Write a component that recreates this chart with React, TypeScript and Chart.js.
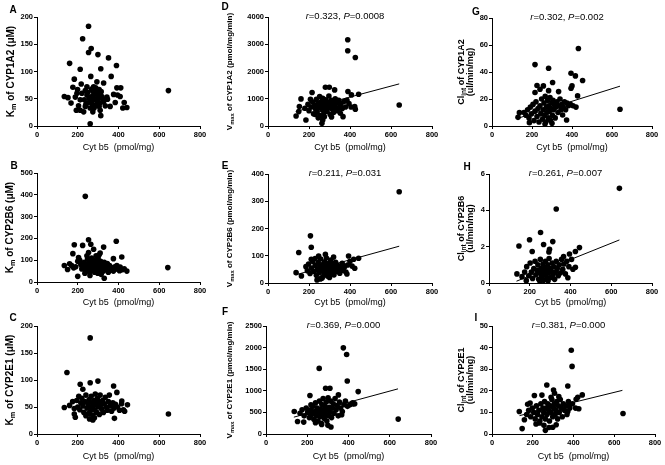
import React, { useEffect, useRef } from "react";
import { Chart, registerables } from "chart.js";
Chart.register(...registerables);

type Pt = [number, number];

// ---------------- DATA ----------------
const xTickValues = [0, 200, 400, 600, 800];
const xAxisTitle = "Cyt b5  (pmol/mg)";

const kmCYP1A2: Pt[] = [
  [253,183],[224,160],[266,142],[253,135],[299,131],[351,125],[390,111],[160,115],[212,104],[313,105],
  [264,91],[364,91],[183,86],[217,77],[294,81],[327,79],[176,71],[392,70],[411,70],[199,67],
  [237,65],[274,64],[305,67],[134,54],[152,52],[188,53],[212,48],[245,57],[269,54],[294,60],
  [318,54],[343,53],[376,58],[395,57],[204,37],[193,29],[212,29],[237,36],[261,33],[286,37],
  [310,42],[335,37],[384,43],[428,43],[421,33],[441,34],[359,36],[313,19],[261,4],[645,65],
  [408,54],[346,49],[281,48],[258,44],[232,48],[167,42],[302,51],[327,45],[229,26],[274,26],
  [294,39],[310,29],[245,72],[278,72],[248,42],[220,60],[196,60],[278,57],
  [285,62],[290,50],[300,58],[265,48],[272,40],[255,52],[315,63],[322,50],[298,44],[288,70],
  [240,40],[305,36],[280,33],[250,62],[268,68]
];
const kmCYP2B6: Pt[] = [
  [237,393],[253,194],[264,173],[389,187],[183,171],[224,168],[327,160],[278,150],[176,130],[310,133],
  [253,135],[416,115],[204,112],[375,107],[134,76],[150,57],[160,84],[200,26],[330,17],[642,66],
  [441,50],[408,69],[392,76],[428,61],
  [190,70],[200,95],[210,100],[215,80],[220,60],[228,75],[232,90],[238,55],[242,70],[248,105],
  [252,85],[255,60],[258,45],[262,95],[265,75],[268,110],[270,55],[273,85],[276,65],[280,100],
  [283,45],[286,80],[290,60],[292,95],[295,70],[298,40],[300,110],[303,85],[306,55],[309,75],
  [312,95],[315,35],[318,65],[322,80],[326,50],[330,90],[335,70],[340,60],[345,85],[350,45],
  [356,75],[362,55],[368,65],[375,50],[382,70],[395,58],[405,52],[418,56],[235,40],[260,30],
  [290,120],[305,125],[245,120],[180,65],[170,75]
];
const kmCYP2E1: Pt[] = [
  [261,178],[147,114],[299,98],[261,95],[212,92],[376,89],[392,77],[225,83],[134,49],[160,53],
  [183,47],[183,37],[188,31],[258,28],[274,26],[380,29],[645,37],[444,54],[424,45],[416,61],
  [175,60],[195,62],[200,50],[205,70],[210,45],[215,58],[220,66],[225,52],[230,40],[235,60],
  [240,72],[245,48],[250,56],[253,38],[256,64],[260,50],[263,44],[266,70],[270,58],[273,35],
  [276,52],[280,62],[283,45],[286,74],[290,55],[293,40],[296,66],[300,50],[303,60],[306,36],
  [310,72],[314,54],[318,46],[322,62],[326,40],[330,56],[335,68],[340,50],[345,44],[350,60],
  [355,72],[360,52],[366,42],[372,58],[378,48],[385,55],[395,50],[405,44],[415,56],[430,42],
  [240,34],[282,30]
];
const vmaxCYP1A2: Pt[] = [
  [389,3166],[389,2761],[426,2515],[640,773],[207,982],[161,994],[137,368],[150,528],[185,221],[215,1227],
  [280,1423],[299,1423],[325,1325],[390,1264],[407,1141],[442,1166],[423,712],[426,613],[263,98],[267,221],
  [353,466],[366,343],[153,712],
  [180,650],[195,800],[200,560],[210,700],[218,880],[222,450],[228,760],[232,620],[236,980],[240,520],
  [244,840],[248,680],[252,1080],[255,380],[258,760],[261,900],[264,600],[267,1020],[270,700],[273,480],
  [276,850],[279,620],[282,960],[285,740],[288,540],[291,880],[294,680],[297,1100],[300,800],[303,420],
  [306,720],[309,940],[312,620],[316,860],[320,500],[324,760],[328,1000],[332,660],[336,860],[340,560],
  [345,940],[350,720],[356,820],[362,640],[370,900],[378,700],[385,940],[395,820],[405,700],[245,300],
  [275,340],[310,330],[230,420]
];
const vmaxCYP2B6: Pt[] = [
  [640,335],[207,173],[211,131],[150,112],[211,87],[137,38],[163,26],[247,99],[393,99],[418,87],
  [442,91],[423,54],[385,33],[263,17],[239,11],
  [185,60],[192,45],[198,70],[205,35],[212,55],[218,80],[224,42],[230,65],[236,28],[240,50],
  [245,75],[249,38],[253,60],[257,88],[260,45],[264,20],[267,68],[270,52],[273,32],[276,78],
  [279,58],[282,40],[285,92],[288,62],[291,25],[294,48],[297,72],[300,55],[303,35],[306,84],
  [310,62],[314,45],[318,70],[322,30],[326,56],[330,76],[335,42],[340,64],[345,50],[350,36],
  [356,58],[362,72],[368,46],[374,60],[380,40],[388,66],[400,80],[410,62],[255,15],[300,20],
  [230,90],[280,105],[320,95]
];
const vmaxCYP2E1: Pt[] = [
  [375,1994],[391,1840],[258,1518],[394,1227],[447,982],[289,1058],[310,1058],[213,890],[351,905],[218,675],
  [137,521],[153,291],[183,276],[315,161],[641,345],[423,698],[407,675],[367,445],
  [165,480],[175,560],[185,420],[195,600],[202,500],[210,380],[216,560],[222,460],[228,640],[232,340],
  [236,520],[240,720],[244,420],[248,600],[252,300],[256,500],[259,760],[262,400],[265,580],[268,250],
  [271,680],[274,460],[277,820],[280,540],[283,360],[286,640],[289,460],[292,740],[295,300],[298,560],
  [301,840],[304,420],[307,620],[310,500],[314,760],[318,380],[322,600],[326,700],[330,480],[335,820],
  [340,560],[345,660],[350,420],[356,740],[362,600],[370,520],[378,680],[385,760],[395,640],[420,720],
  [430,700],[240,260],[270,220],[300,200]
];
const clintCYP1A2: Pt[] = [
  [432,57.4],[215,45.5],[283,42.8],[395,39.1],[417,37.1],[453,33.7],[303,32.2],[400,29.7],[395,28],[225,30],
  [257,29.7],[240,27.2],[283,26.2],[215,24.8],[333,25.5],[428,22.3],[640,12.4],[137,9.9],[130,6.4],[353,8.2],
  [373,4.5],[187,2.5],
  [160,10],[170,8],[178,12],[185,6],[192,14],[198,9],[205,16],[210,4],[215,11],[220,18],
  [225,7],[230,13],[235,3],[240,15],[244,9],[248,20],[252,5],[256,12],[260,17],[263,8],
  [266,22],[269,3],[272,14],[275,10],[278,19],[281,6],[284,15],[287,11],[290,21],[293,4],
  [296,13],[299,17],[302,8],[305,19],[308,12],[312,16],[316,6],[320,14],[325,18],[330,10],
  [335,15],[340,20],[345,12],[350,16],[356,14],[362,18],[368,12],[375,17],[382,15],[392,16],
  [405,15],[420,14],[265,1.5],[300,2]
];
const clintCYP2B6: Pt[] = [
  [640,5.21],[330,4.07],[253,2.78],[199,2.38],[147,2.04],[313,2.28],[268,2.12],[297,1.86],[294,1.71],[212,1.73],
  [444,1.95],[424,1.73],[395,1.6],[366,1.45],[424,0.87],[412,0.76],[137,0.5],[162,0.35],[183,0.13],[387,0.29],
  [175,0.6],[185,0.9],[195,0.4],[202,1.1],[208,0.6],[214,0.25],[220,0.8],[226,1.2],[230,0.45],[235,0.7],
  [240,1.0],[244,0.2],[248,0.55],[252,1.3],[255,0.8],[258,0.35],[262,0.65],[265,1.05],[268,0.15],[271,0.5],
  [274,0.85],[277,1.2],[280,0.4],[283,0.7],[286,0.25],[289,1.0],[292,0.55],[295,1.35],[298,0.8],[302,0.3],
  [306,0.65],[310,1.1],[314,0.45],[318,0.9],[322,0.2],[326,0.6],[330,1.2],[335,0.8],[340,0.4],[345,1.0],
  [350,0.55],[356,1.3],[362,0.75],[368,1.05],[375,0.5],[382,1.2],[392,0.9],[405,1.3],[250,0.1],[290,0.12]
];
const clintCYP2E1: Pt[] = [
  [389,38.8],[393,31.3],[643,9.5],[269,22.7],[372,22.2],[302,20.4],[307,18.9],[328,17.3],[443,18.1],[421,17.0],
  [413,16.1],[208,17.8],[187,14.3],[175,13.8],[134,10.4],[159,6.6],[148,2.5],[262,1.7],[233,5.1],[216,4.6],
  [315,4.3],[298,3.1],[410,12.0],[426,11.7],[372,10.4],[384,13.8],
  [170,9],[180,11],[190,8],[198,12],[205,10],[212,7],[218,13],[224,9],[230,11],[235,6],
  [240,14],[245,8],[250,12],[254,10],[258,15],[262,7],[266,12],[270,9],[274,14],[278,11],
  [282,6],[286,13],[290,10],[294,16],[298,8],[302,12],[306,14],[310,9],[314,11],[318,15],
  [322,7],[326,13],[330,10],[335,16],[340,12],[345,8],[350,14],[356,11],[362,13],[368,9],
  [375,15],[382,12],[395,14],[255,4],[280,3],[245,18],[290,17]
];

// regression line end points
const fitVmaxCYP1A2: Pt[] = [[135, 530], [640, 1545]];
const fitVmaxCYP2B6: Pt[] = [[135, 30], [640, 135]];
const fitVmaxCYP2E1: Pt[] = [[135, 390], [640, 1045]];
const fitClintCYP1A2: Pt[] = [[135, 6], [640, 29.5]];
const fitClintCYP2B6: Pt[] = [[135, 0.1], [640, 2.37]];
const fitClintCYP2E1: Pt[] = [[135, 8.5], [640, 20.2]];

// y axis ranges [max, step]
const yKm1A2 = [200, 50];
const yKm2B6 = [500, 100];
const yKm2E1 = [200, 50];
const yVmax1A2 = [4000, 1000];
const yVmax2B6 = [400, 100];
const yVmax2E1 = [2500, 500];
const yClint1A2 = [80, 20];
const yClint2B6 = [6, 2];
const yClint2E1 = [50, 10];

// text parts: sub = subscript, i = italic
type Part = { t: string; sub?: boolean; i?: boolean };
const stat1A2: Part[] = [{ t: "r", i: true }, { t: "=0.323, " }, { t: "P", i: true }, { t: "=0.0008" }];
const stat2B6V: Part[] = [{ t: "r", i: true }, { t: "=0.211, " }, { t: "P", i: true }, { t: "=0.031" }];
const stat2E1V: Part[] = [{ t: "r", i: true }, { t: "=0.369, " }, { t: "P", i: true }, { t: "=0.000" }];
const stat1A2C: Part[] = [{ t: "r", i: true }, { t: "=0.302, " }, { t: "P", i: true }, { t: "=0.002" }];
const stat2B6C: Part[] = [{ t: "r", i: true }, { t: "=0.261, " }, { t: "P", i: true }, { t: "=0.007" }];
const stat2E1C: Part[] = [{ t: "r", i: true }, { t: "=0.381, " }, { t: "P", i: true }, { t: "=0.000" }];

const kmTitle = (iso: string): Part[][] => [[{ t: "K" }, { t: "m", sub: true }, { t: ` of ${iso} (\u03BCM)` }]];
const vTitle = (iso: string): Part[][] => [[{ t: "V" }, { t: "max", sub: true }, { t: ` of ${iso} (pmol/mg/min)` }]];
const cTitle = (iso: string): Part[][] => [
  [{ t: "Cl" }, { t: "int", sub: true }, { t: ` of ${iso}` }],
  [{ t: "(ul/min/mg)" }],
];

// ---------------- LAYOUT ----------------
const FONT = "'Liberation Sans', Arial, Helvetica, sans-serif";
const CW = 222;
const CH = 160;

type Panel = {
  letter: string;
  pts: Pt[];
  fit?: Pt[];
  y: number[];
  title: Part[][];
  titleSize: number;
  titleX: number;
  stat?: Part[];
  left: number;
  top: number;
  plot: [number, number, number, number]; // l t r b relative to canvas
  letterPos: [number, number];
  xTitlePad: number;
};

const panels: Panel[] = [
  { letter: "A", pts: kmCYP1A2, y: yKm1A2, title: kmTitle("CYP1A2"), titleSize: 10, titleX: 10,
    left: 0, top: 0, plot: [37, 17, 200, 126], letterPos: [13, 10], xTitlePad: 7.5 },
  { letter: "D", pts: vmaxCYP1A2, fit: fitVmaxCYP1A2, y: yVmax1A2, title: vTitle("CYP1A2"), titleSize: 8, titleX: 7, stat: stat1A2,
    left: 222, top: 0, plot: [46, 17, 210, 126], letterPos: [3, 7], xTitlePad: 7.5 },
  { letter: "G", pts: clintCYP1A2, fit: fitClintCYP1A2, y: yClint1A2, title: cTitle("CYP1A2"), titleSize: 9, titleX: 22, stat: stat1A2C,
    left: 443, top: 0, plot: [49, 18, 209, 126], letterPos: [33, 12], xTitlePad: 7.5 },
  { letter: "B", pts: kmCYP2B6, y: yKm2B6, title: kmTitle("CYP2B6"), titleSize: 10, titleX: 9,
    left: 0, top: 150, plot: [37, 23, 200, 132], letterPos: [14, 16], xTitlePad: 1.8 },
  { letter: "E", pts: vmaxCYP2B6, fit: fitVmaxCYP2B6, y: yVmax2B6, title: vTitle("CYP2B6"), titleSize: 8, titleX: 7, stat: stat2B6V,
    left: 222, top: 150, plot: [46, 24, 210, 133], letterPos: [3, 16], xTitlePad: 1.8 },
  { letter: "H", pts: clintCYP2B6, fit: fitClintCYP2B6, y: yClint2B6, title: cTitle("CYP2B6"), titleSize: 9, titleX: 22, stat: stat2B6C,
    left: 443, top: 150, plot: [46, 24, 209, 133], letterPos: [24, 17], xTitlePad: 1.8 },
  { letter: "C", pts: kmCYP2E1, y: yKm2E1, title: kmTitle("CYP2E1"), titleSize: 10, titleX: 9,
    left: 0, top: 305, plot: [37, 21, 200, 129], letterPos: [13, 13], xTitlePad: 3.5 },
  { letter: "F", pts: vmaxCYP2E1, fit: fitVmaxCYP2E1, y: yVmax2E1, title: vTitle("CYP2E1"), titleSize: 8, titleX: 7, stat: stat2E1V,
    left: 222, top: 305, plot: [44, 21, 209, 129], letterPos: [3, 7], xTitlePad: 3.5 },
  { letter: "I", pts: clintCYP2E1, fit: fitClintCYP2E1, y: yClint2E1, title: cTitle("CYP2E1"), titleSize: 9, titleX: 22, stat: stat2E1C,
    left: 443, top: 305, plot: [49, 21, 212, 129], letterPos: [33, 13], xTitlePad: 3.5 },
];

function drawParts(ctx: CanvasRenderingContext2D, parts: Part[], size: number, bold: boolean, cx: number, cy: number) {
  const fontOf = (p: Part) =>
    `${p.i ? "italic " : ""}${bold ? "bold " : ""}${p.sub ? size * 0.72 : size}px ${FONT}`;
  const widths = parts.map((p) => {
    ctx.font = fontOf(p);
    return ctx.measureText(p.t).width;
  });
  const total = widths.reduce((a, b) => a + b, 0);
  let x = cx - total / 2;
  const base = cy + size * 0.36;
  ctx.textBaseline = "alphabetic";
  ctx.textAlign = "left";
  parts.forEach((p, k) => {
    ctx.font = fontOf(p);
    ctx.fillText(p.t, x, p.sub ? base + size * 0.28 : base);
    x += widths[k];
  });
}

function makeTextPlugin(p: Panel) {
  return {
    id: "panelText" + p.letter,
    afterDraw(chart: any) {
      const ctx: CanvasRenderingContext2D = chart.ctx;
      const area = chart.chartArea;
      ctx.save();
      ctx.fillStyle = "#000";
      ctx.font = `bold 10px ${FONT}`;
      ctx.textAlign = "center";
      ctx.textBaseline = "middle";
      ctx.fillText(p.letter, p.letterPos[0], p.letterPos[1]);
      if (p.stat) {
        drawParts(ctx, p.stat, 9.5, false, (area.left + area.right) / 2 - 5, area.top - 1.5);
      }
      ctx.save();
      ctx.translate(p.titleX, (area.top + area.bottom) / 2);
      ctx.rotate(-Math.PI / 2);
      const n = p.title.length;
      const lh = p.titleSize * 1.05;
      p.title.forEach((line, k) => {
        drawParts(ctx, line, p.titleSize, true, 0, (k - (n - 1) / 2) * lh);
      });
      ctx.restore();
      ctx.restore();
    },
  };
}

function PanelChart({ p }: { p: Panel }) {
  const ref = useRef<HTMLCanvasElement>(null);
  useEffect(() => {
    if (!ref.current) return;
    const [l, t, r, b] = p.plot;
    const datasets: any[] = [
      {
        data: p.pts.map(([x, y]) => ({ x, y })),
        pointRadius: 2.8,
        pointBackgroundColor: "#000",
        pointBorderWidth: 0,
        backgroundColor: "#000",
        borderColor: "#000",
        showLine: false,
        clip: false,
      },
    ];
    if (p.fit) {
      datasets.push({
        data: p.fit.map(([x, y]) => ({ x, y })),
        showLine: true,
        pointRadius: 0,
        borderColor: "#000",
        borderWidth: 1,
        clip: false,
      });
    }
    const tickFont = { family: FONT, size: 7.5, weight: "bold" as const };
    const chart = new Chart(ref.current, {
      type: "scatter",
      data: { datasets },
      options: {
        animation: false,
        responsive: false,
        devicePixelRatio: 1,
        layout: { padding: { top: t, right: CW - r, left: 0, bottom: 0 } },
        plugins: { legend: { display: false }, tooltip: { enabled: false } },
        scales: {
          x: {
            type: "linear",
            min: 0,
            max: 800,
            afterBuildTicks: (s: any) => {
              s.ticks = xTickValues.map((v) => ({ value: v }));
            },
            ticks: { color: "#000", font: tickFont, padding: 1, maxRotation: 0, callback: (v: any) => String(v) },
            grid: { drawOnChartArea: false, drawTicks: true, tickLength: 3, color: "#000", lineWidth: 1 },
            border: { display: true, color: "#000", width: 1 },
            title: {
              display: true,
              text: xAxisTitle,
              color: "#000",
              font: { family: FONT, size: 9 },
              padding: { top: 0, bottom: p.xTitlePad },
            },
            afterFit: (s: any) => {
              s.height = CH - b;
            },
          },
          y: {
            type: "linear",
            min: 0,
            max: p.y[0],
            ticks: { stepSize: p.y[1], color: "#000", font: tickFont, padding: 1, callback: (v: any) => String(v) },
            grid: { drawOnChartArea: false, drawTicks: true, tickLength: 3, color: "#000", lineWidth: 1 },
            border: { display: true, color: "#000", width: 1 },
            afterFit: (s: any) => {
              s.width = l;
            },
          },
        },
      } as any,
      plugins: [makeTextPlugin(p)],
    });
    return () => chart.destroy();
  }, [p]);
  return (
    <canvas
      ref={ref}
      width={CW}
      height={CH}
      style={{ position: "absolute", left: p.left, top: p.top, width: CW, height: CH }}
    />
  );
}

export default function App() {
  return (
    <div
      style={{
        position: "absolute",
        left: 0,
        top: 0,
        width: 665,
        height: 465,
        overflow: "hidden",
        background: "#fff",
      }}
    >
      {panels.map((p) => (
        <PanelChart key={p.letter} p={p} />
      ))}
    </div>
  );
}
